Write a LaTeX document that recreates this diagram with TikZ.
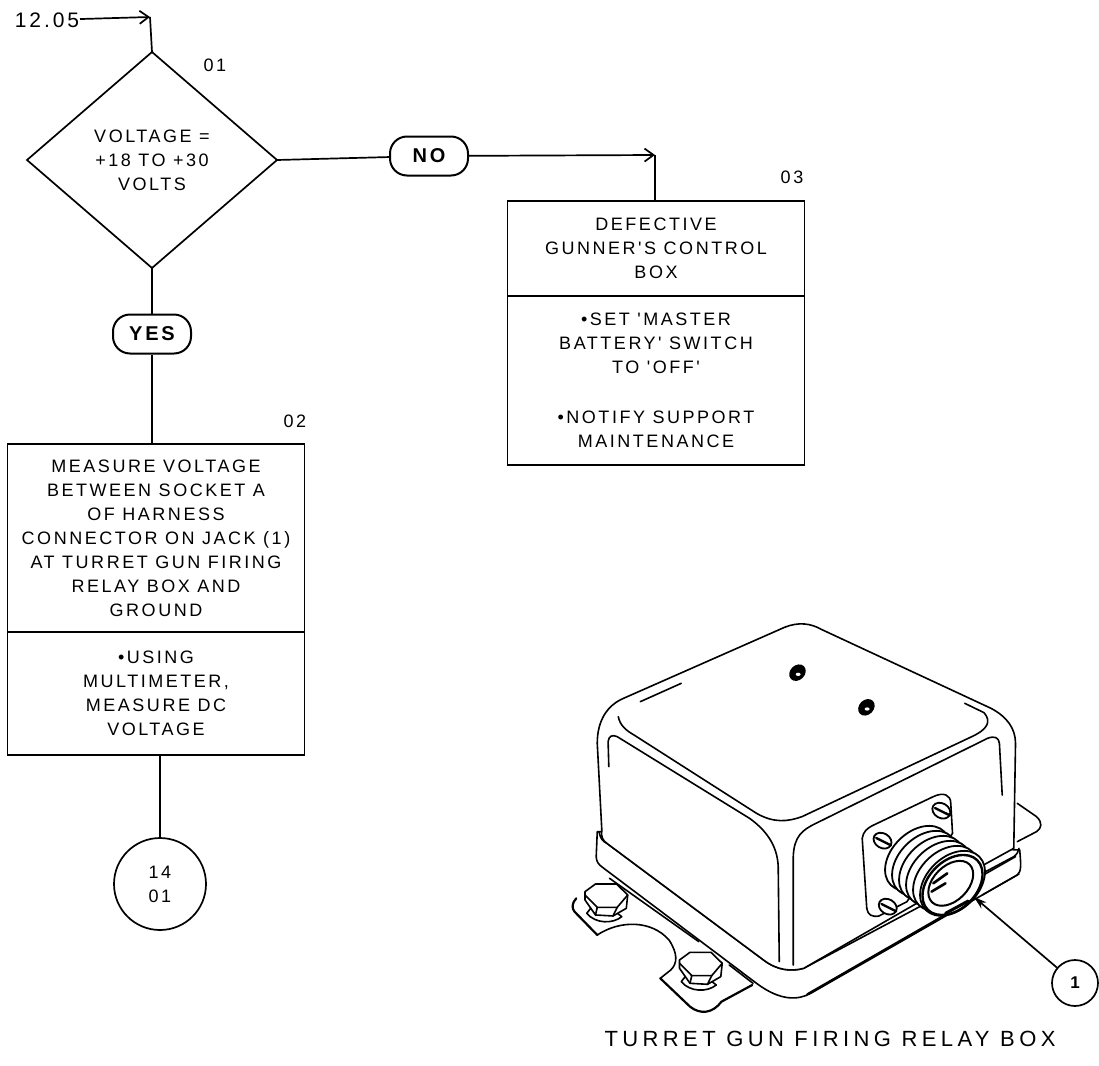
\documentclass[tikz,border=0pt]{standalone}
\usepackage{fontspec}
\newfontfamily\plate[LetterSpace=14]{Liberation Sans}
\newfontfamily\platewide[LetterSpace=20]{Liberation Sans}
\usetikzlibrary{arrows.meta,positioning,shapes.geometric}

\begin{document}
\begin{tikzpicture}[
  x=1pt, y=-1pt,
  font=\fontsize{18}{24}\plate,
  line width=1.7pt,
  box/.style={draw, align=center, minimum width=297pt, inner sep=0pt, outer sep=0pt},
  decision/.style={draw, diamond, align=center, minimum width=250pt, minimum height=216pt, inner sep=0pt, outer sep=0pt},
  pill/.style={draw, rounded corners=17pt, line width=2pt, minimum width=78pt, minimum height=39pt, inner sep=0pt, font=\fontsize{20}{24}\plate\bfseries},
  stepno/.style={inner sep=0pt},
  callout/.style={draw, circle, inner sep=0pt, align=center},
  part/.style={line width=1.6pt, line join=round, line cap=round},
  >={Straight Barb[length=9pt, width=13pt]}]
\useasboundingbox (0,0) rectangle (1099,1065);

% flow chart
\node[stepno, font=\fontsize{21}{24}\plate] (ref) at (47,20) {12.05};
\coordinate (entry) at (150,17);
\node[decision] (volt) at (152,160) {VOLTAGE =\\+18 TO +30\\VOLTS};
\node[stepno] (n01) at (215,65) {01};
\node[pill] (yes) at (152,334) {YES};
\node[pill] (no) at (429,156) {NO};
\coordinate (turn) at (655,155);
\node[box, minimum height=95pt] (defect) at (656,248.5) {DEFECTIVE\\GUNNER'S CONTROL\\BOX};
\node[box, minimum height=169pt, below=0pt of defect] (defectdo) {•SET 'MASTER\\BATTERY' SWITCH\\TO 'OFF'\\[26pt]•NOTIFY SUPPORT\\MAINTENANCE};
\node[stepno] (n03) at (792,177) {03};
\node[box, minimum height=188pt] (measure) at (156,538) {MEASURE VOLTAGE\\BETWEEN SOCKET A\\OF HARNESS\\CONNECTOR ON JACK (1)\\AT TURRET GUN FIRING\\RELAY BOX AND\\GROUND};
\node[box, minimum height=123pt, below=0pt of measure] (measuredo) {•USING\\MULTIMETER,\\MEASURE DC\\VOLTAGE};
\node[stepno] (n02) at (295,421) {02};
\node[callout, minimum size=92pt] (off) at (160,884) {14\\01};

\draw[->] (ref) -- (entry);
\draw (entry) -- (volt.north);
\draw (volt.south) -- (yes);
\draw (yes) -- (yes |- measure.north);
\draw (volt.east) -- (no);
\draw[->] (no) -- (turn);
\draw (turn) -- (turn |- defect.north);
\draw (measuredo.south -| off.north) -- (off.north);

% relay box
\begin{scope}[shift={(550,600)}, x=0.35pt, y=-0.3333pt, part]
  % mounting tabs
  \draw (1335,610) -- (1390,650) .. controls (1408,668) and (1405,685) .. (1390,695) -- (1335,725);
  \draw (170,835) -- (425,1025);
  \draw (512,1095) -- (580,1150);
  \draw[line width=2.2pt] (75,895) .. controls (62,910) and (62,925) .. (70,935) -- (135,1005);
  \draw (135,1005) .. controls (200,960) and (290,960) .. (340,1020) .. controls (365,1060) and (365,1090) .. (345,1110) -- (315,1135);
  \draw[line width=2.2pt] (315,1135) -- (400,1220) .. controls (430,1245) and (465,1240) .. (490,1205) -- (578,1155);
  % base flange
  \draw[fill=white] (135,695) -- (132,770) .. controls (132,785) and (140,795) .. (150,802) -- (590,1150)
    .. controls (660,1205) and (710,1200) .. (745,1180) -- (1335,825) .. controls (1348,815) and (1345,790) .. (1342,750) -- cycle;
  \draw (140,695) .. controls (145,720) and (150,722) .. (165,732) -- (610,1080)
    .. controls (650,1112) and (690,1115) .. (725,1105) -- (1325,770) .. controls (1335,762) and (1338,755) .. (1340,745);
  % body
  \draw[fill=white] (148,690) -- (135,430) .. controls (135,360) and (165,315) .. (210,295) -- (670,82)
    .. controls (710,65) and (745,70) .. (775,88) -- (1260,325) .. controls (1305,350) and (1330,385) .. (1330,430) -- (1325,745)
    -- (1230,800) -- (725,1105) .. controls (690,1115) and (650,1112) .. (610,1080) -- (165,732) .. controls (150,722) and (145,710) .. cycle;
  \draw (195,350) .. controls (200,375) and (215,390) .. (240,405) -- (590,640) .. controls (640,670) and (680,665) .. (720,650)
    -- (1205,410) .. controls (1250,388) and (1262,365) .. (1240,338) -- (1185,310);
  \draw (258,305) -- (375,250);
  \draw (168,500) -- (166,425) .. controls (168,408) and (178,403) .. (192,410) -- (570,655)
    .. controls (630,700) and (650,750) .. (652,800) -- (655,1085);
  \draw (695,1095) -- (695,770) .. controls (697,710) and (720,690) .. (760,670) -- (1250,415)
    .. controls (1270,407) and (1282,412) .. (1284,430) -- (1292,585);
  \draw[line width=2.2pt] (735,1183) -- (1195,905);
  \draw (1230,830) -- (1330,770);
  \draw (1235,885) -- (1340,822);
  % screw holes
  \foreach \hx/\hy in {707/218, 904/322} {
    \fill (\hx,\hy) ellipse [x radius=26, y radius=22, rotate=45];
    \fill[white] (\hx+2,\hy+5) ellipse [x radius=7, y radius=5];
  }
  % connector
  \draw[fill=white] (892,715) .. controls (895,695) and (905,685) .. (925,675) -- (1095,590) .. controls (1125,575) and (1145,585) .. (1145,610)
    -- (1150,700) -- (1020,905) -- (940,948) .. controls (920,952) and (908,945) .. (905,925) -- cycle;
  \foreach \sx/\sy in {950/722, 1118/632, 965/920} {
    \draw[fill=white, line width=1.8pt] (\sx,\sy) ellipse [x radius=27, y radius=22, rotate=-30];
    \draw[line width=2.4pt] (\sx-18,\sy-8) -- (\sx+24,\sy+14);
  }
  \foreach \k in {0,...,5} {
    \draw[fill=white, line width=1.8pt] ({1050+\k*20},{775+\k*15}) ellipse [x radius=108, y radius=78, rotate=45];
  }
  \draw[line width=2.4pt] (1150,855) ellipse [x radius=100, y radius=72, rotate=45];
  \draw[line width=2pt] (1145,850) ellipse [x radius=76, y radius=52, rotate=45];
  \draw[line width=2.6pt] (1095,850) -- (1135,820) (1090,875) -- (1130,850);
  \draw[line width=3pt] (1130,940) -- (1195,903);
  % bolts
  \foreach \bx/\by in {160/900, 430/1105} {
    \begin{scope}[shift={(\bx,\by)}]
      \draw[fill=white] (-55,40) .. controls (-30,72) and (20,72) .. (45,50) -- (20,30) -- (-40,20) -- cycle;
      \draw[fill=white] (-60,-25) -- (-30,-48) -- (30,-48) -- (62,-15) -- (58,25) -- (20,48) -- (-30,45) -- (-60,0) -- cycle;
      \draw (-60,-15) -- (-25,22) -- (32,22) -- (62,-15);
      \draw (-25,22) -- (-30,45);
      \draw (32,22) -- (20,48);
    \end{scope}
  }
\end{scope}

\node[callout, minimum size=46pt, font=\fontsize{17}{20}\plate\bfseries] (item) at (1075,983) {1};
\coordinate (jack) at (974,897);
\draw[-{Stealth[length=13pt, width=8pt]}] (item) -- (jack);
\node[inner sep=0pt, font=\fontsize{22}{24}\platewide] (title) at (830,1039) {TURRET GUN FIRING RELAY BOX};
\end{tikzpicture}
\end{document}
